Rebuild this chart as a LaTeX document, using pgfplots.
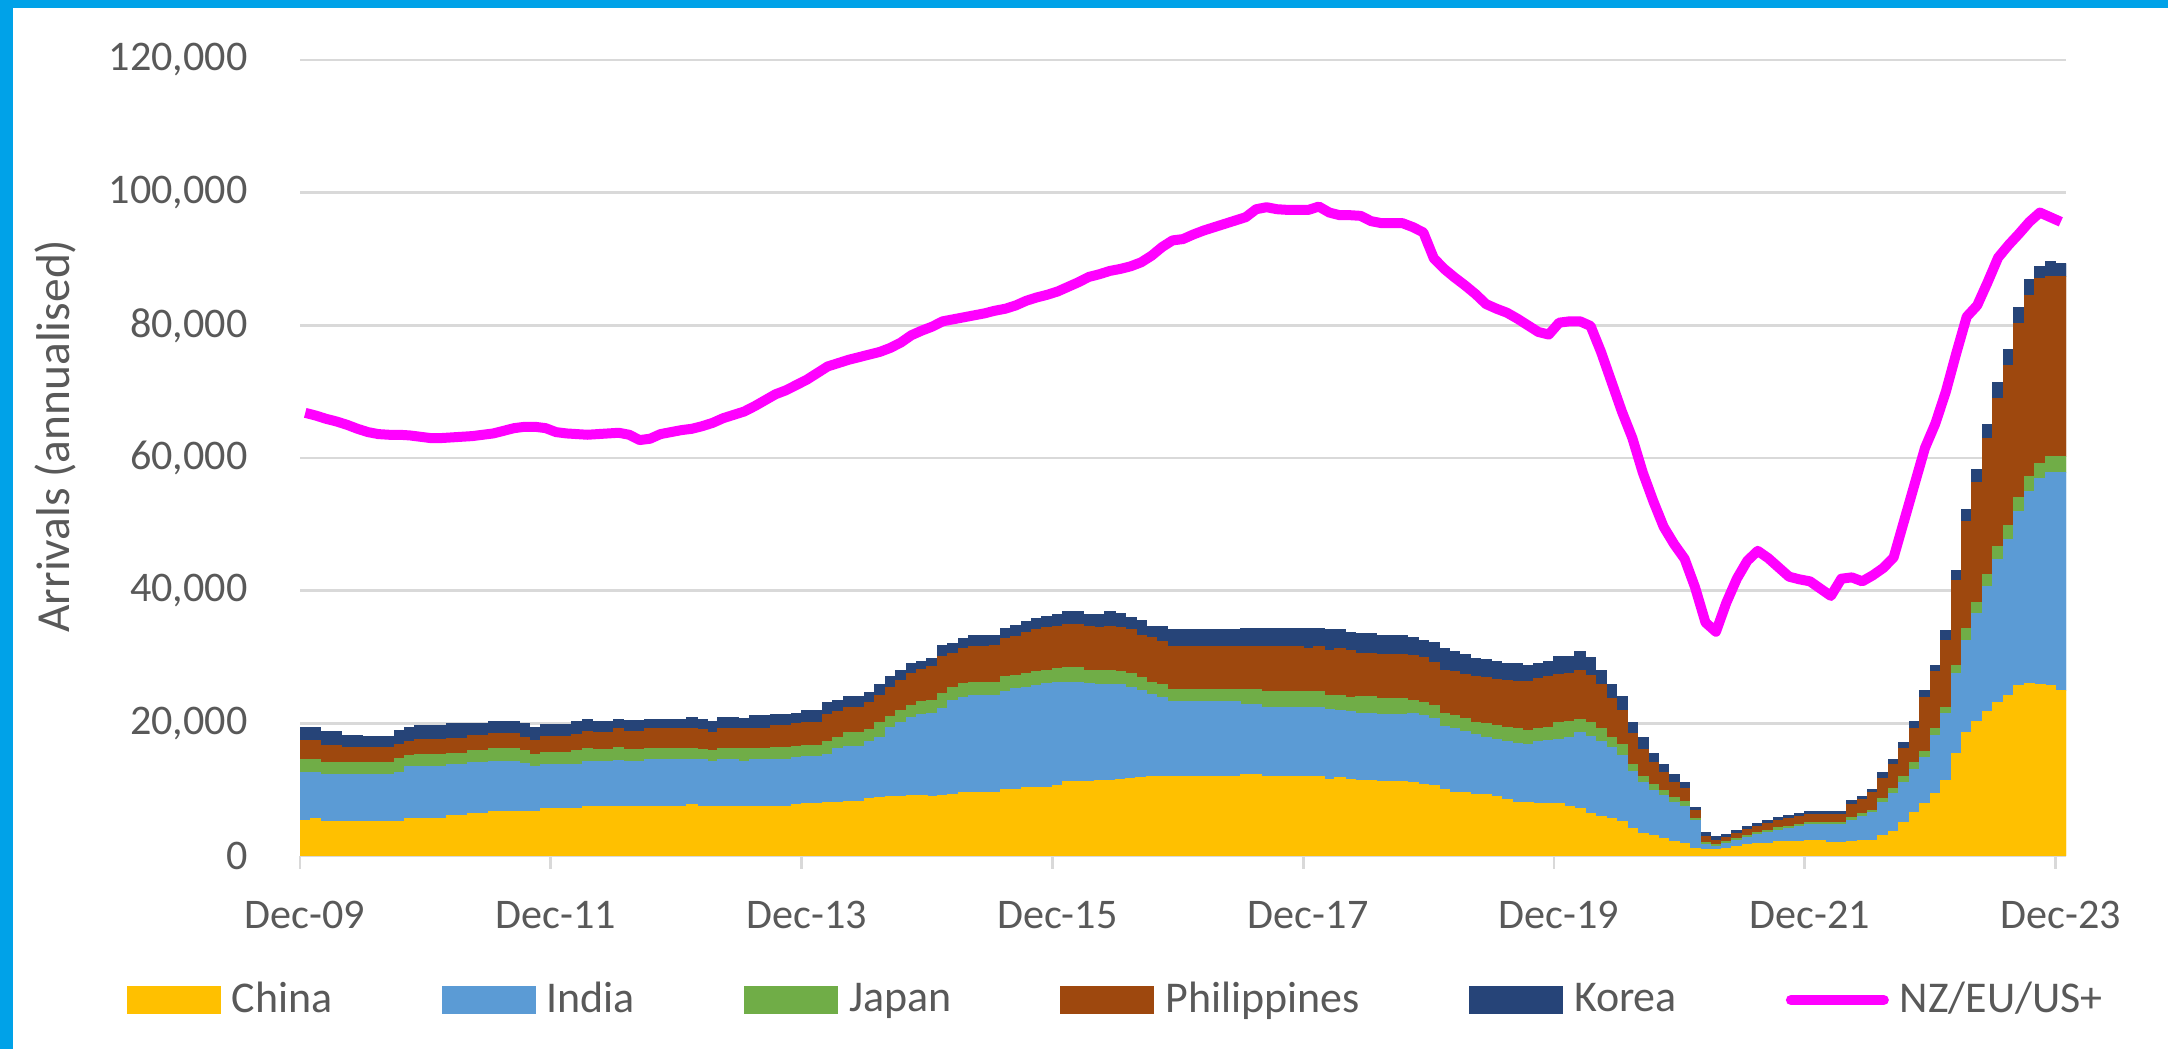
\documentclass[border=0pt]{standalone}
\usepackage{pgfplots}
\pgfplotsset{compat=1.18}
\usepackage{pgfplotstable}
\usepackage{fontspec}
\setmainfont{Carlito}

\definecolor{cChina}{HTML}{FFC000}
\definecolor{cIndia}{HTML}{5B9BD5}
\definecolor{cJapan}{HTML}{70AD47}
\definecolor{cPhil}{HTML}{9E480E}
\definecolor{cKorea}{HTML}{264478}
\definecolor{cNZ}{HTML}{FF00FF}
\definecolor{gridC}{HTML}{D9D9D9}
\definecolor{textC}{HTML}{595959}
\definecolor{frameC}{HTML}{00A2E8}

% monthly arrivals (annualised), Dec-09 = 0.5 ... Dec-23 = 168.5
\pgfplotstableread{
x China India Japan Philippines Korea NZ
0.5 5300 7250 2050 2800 2000 66800
1.5 5700 6850 2050 2800 2000 66400
2.5 5200 7100 1800 2500 2100 65900
3.5 5200 7100 1800 2500 2100 65500
4.5 5200 7100 1800 2250 1750 65000
5.5 5200 7100 1800 2250 1750 64400
6.5 5200 7100 1800 2250 1650 63900
7.5 5200 7100 1800 2250 1650 63600
8.5 5200 7100 1800 2250 1650 63500
9.5 5200 7450 2050 2150 2050 63500
10.5 5600 7850 1750 2000 2200 63400
11.5 5700 7850 1800 2250 2050 63200
12.5 5700 7850 1800 2250 2050 63000
13.5 5700 7850 1800 2250 2050 63000
14.5 6100 7700 1700 2200 2200 63100
15.5 6100 7700 1700 2200 2200 63200
16.5 6400 7700 1750 2250 1900 63300
17.5 6400 7700 1750 2250 1900 63500
18.5 6700 7500 2000 2300 1750 63700
19.5 6700 7500 2000 2300 1750 64100
20.5 6700 7500 2000 2300 1750 64500
21.5 6750 7200 1900 2050 2000 64700
22.5 6750 6800 1800 2000 2050 64700
23.5 7100 6700 1800 2400 1800 64500
24.5 7100 6700 1800 2400 1800 63900
25.5 7100 6700 1800 2400 1800 63700
26.5 7100 6700 2050 2400 2000 63600
27.5 7400 6900 1900 2600 1750 63500
28.5 7400 6900 1750 2600 1600 63600
29.5 7400 6900 1750 2600 1600 63700
30.5 7400 7050 1850 2850 1400 63800
31.5 7400 6900 1800 2650 1650 63500
32.5 7400 6900 1800 2650 1650 62700
33.5 7400 7200 1600 2950 1400 62900
34.5 7400 7200 1600 2950 1400 63600
35.5 7400 7200 1600 2950 1400 63900
36.5 7400 7200 1600 2950 1400 64200
37.5 7750 6850 1600 2950 1750 64400
38.5 7500 7000 1600 2950 1500 64800
39.5 7500 6750 1600 2800 1600 65300
40.5 7500 7000 1700 2950 1750 66000
41.5 7500 7000 1700 2950 1750 66500
42.5 7500 6800 1900 3050 1500 67000
43.5 7500 7000 1700 3050 1900 67800
44.5 7500 7000 1700 3050 1900 68700
45.5 7500 7100 1750 3300 1650 69600
46.5 7500 7100 1750 3300 1650 70200
47.5 7750 7100 1650 3400 1600 71000
48.5 7850 7100 1750 3450 1750 71800
49.5 7850 7100 1750 3450 1750 72800
50.5 8100 7250 1850 4200 1700 73800
51.5 8100 8100 1650 3900 1700 74300
52.5 8250 8250 2100 3800 1700 74800
53.5 8250 8250 2100 3800 1700 75200
54.5 8600 8600 1800 4200 1500 75600
55.5 8750 9150 2250 4050 1600 76000
56.5 8900 10500 1600 4450 1650 76600
57.5 9000 11150 1750 4600 1500 77400
58.5 9150 11750 1800 4800 1500 78500
59.5 9150 12250 1900 4800 1250 79200
60.5 8900 12650 1900 5050 1250 79800
61.5 9100 13200 2150 5550 1800 80600
62.5 9250 14200 2000 5050 1600 80900
63.5 9500 14450 2000 5250 1600 81200
64.5 9600 14600 2000 5350 1650 81500
65.5 9600 14600 2000 5350 1650 81800
66.5 9600 14600 2000 5500 1600 82200
67.5 10000 14800 2200 5800 1500 82500
68.5 10000 15200 2050 5800 1700 83000
69.5 10300 15150 2050 6200 1650 83700
70.5 10300 15400 2050 6450 1650 84200
71.5 10300 15650 2050 6450 1650 84600
72.5 10550 15550 2150 6350 1850 85100
73.5 11300 14900 2150 6600 1900 85800
74.5 11300 14900 2150 6600 1900 86500
75.5 11300 14650 2050 6600 1850 87300
76.5 11400 14400 2200 6450 1900 87700
77.5 11400 14400 2200 6600 2250 88200
78.5 11550 14250 2050 6600 2150 88500
79.5 11650 13800 2050 6600 1850 88900
80.5 11800 13150 1900 6450 2150 89500
81.5 11950 12350 1900 6700 1700 90500
82.5 12050 11900 1850 6600 2200 91800
83.5 12050 11250 1850 6450 2500 92800
84.5 12050 11250 1850 6450 2500 93000
85.5 12050 11250 1850 6450 2500 93700
86.5 12050 11250 1850 6450 2500 94300
87.5 12050 11250 1850 6450 2500 94800
88.5 12050 11250 1850 6450 2500 95300
89.5 12050 11250 1850 6450 2500 95800
90.5 12300 10500 2300 6450 2800 96300
91.5 12300 10500 2300 6450 2800 97500
92.5 12050 10400 2350 6750 2800 97800
93.5 12050 10400 2350 6750 2800 97500
94.5 12050 10400 2350 6750 2800 97400
95.5 12050 10400 2350 6750 2800 97400
96.5 12050 10400 2350 6500 2950 97400
97.5 12050 10400 2350 6750 2800 97900
98.5 11550 10550 2100 6700 3200 97000
99.5 11800 10100 2300 7000 2900 96600
100.5 11550 10250 2150 6950 2800 96600
101.5 11450 10100 2500 6500 3000 96500
102.5 11450 10100 2500 6500 3000 95700
103.5 11150 10250 2400 6600 2800 95400
104.5 11150 10250 2400 6600 2800 95400
105.5 11150 10250 2400 6600 2800 95400
106.5 11050 10500 1900 6750 2700 94800
107.5 10800 10450 1850 6800 2650 94000
108.5 10650 10100 1950 6450 3050 90100
109.5 10050 9500 2000 6450 3200 88500
110.5 9600 9650 1900 6600 3050 87200
111.5 9500 9250 1900 6700 3050 86000
112.5 9250 9000 1900 6850 2750 84700
113.5 9250 8650 2000 6950 2800 83200
114.5 8900 8600 2150 7000 2600 82500
115.5 8500 8700 2200 7100 2500 81900
116.5 8100 8900 2250 7050 2700 81000
117.5 8000 8850 2050 7400 2450 80000
118.5 7850 9350 1950 7600 2250 79000
119.5 7850 9500 2050 7600 2350 78600
120.5 7850 9750 2550 7200 2650 80400
121.5 7500 10400 2350 7250 2600 80600
122.5 7100 11450 2000 7450 2800 80600
123.5 6400 11650 2100 7100 2600 79900
124.5 6000 11200 1950 6650 2200 76000
125.5 5700 10650 1500 5950 2000 71500
126.5 5200 10000 1650 5050 2200 67000
127.5 4200 8600 1000 4600 1750 63000
128.5 3450 7600 1000 3950 1800 57800
129.5 3100 6750 900 3300 1350 53500
130.5 2700 6350 800 2700 1200 49600
131.5 2250 5800 800 2200 1200 47000
132.5 1950 5500 800 1900 900 44800
133.5 1050 4350 250 1200 450 40500
134.5 900 900 300 900 600 35200
135.5 900 600 300 600 600 33800
136.5 1200 700 300 650 450 38200
137.5 1500 900 300 750 350 41800
138.5 1800 1050 250 900 400 44500
139.5 1900 1400 300 900 400 46000
140.5 1900 1700 300 1050 400 44900
141.5 2200 1700 400 1050 450 43500
142.5 2200 2000 300 1150 450 42100
143.5 2200 2300 300 1200 400 41700
144.5 2400 2400 300 1150 450 41400
145.5 2400 2400 300 1150 450 40300
146.5 2100 2650 300 1200 450 39200
147.5 2100 2650 300 1200 450 41800
148.5 2250 3100 450 1950 600 42000
149.5 2400 3600 400 2100 450 41400
150.5 2400 4150 300 2700 450 42300
151.5 3100 4950 600 3000 900 43400
152.5 3700 5750 700 3600 850 45000
153.5 5050 6000 900 4300 900 50500
154.5 6550 6450 1050 5150 1100 56000
155.5 7900 6900 1000 8100 1050 61500
156.5 9450 8750 1000 8550 900 65200
157.5 11450 10050 900 10150 1500 70000
158.5 15400 12050 1200 12850 1600 75800
159.5 18650 13900 1800 16100 1800 81300
160.5 20300 16250 1650 18050 1950 83000
161.5 21800 18800 1800 20600 2100 86500
162.5 23150 21500 2050 22250 2400 90200
163.5 24200 23550 2100 24050 2400 92100
164.5 25700 26250 2050 26300 2400 93800
165.5 26000 28900 2300 27300 2400 95600
166.5 25800 31050 2250 27950 1800 97000
167.5 25700 32100 2400 27100 2250 96300
168.5 25000 32800 2400 27100 1950 95600
}\arrivals

\pgfplotsset{
  base/.style={
    scale only axis, width=176.6mm, height=79.6mm,
    at={(30mm,19.3mm)}, anchor=south west,
    xmin=0, xmax=169, ymin=0, ymax=120000, enlargelimits=false
  },
  swatch legend/.style={legend image code/.code={\fill[##1] (0mm,-1.35mm) rectangle (9.3mm,1.35mm);}},
  nz legend/.style={legend image code/.code={\draw[##1,line cap=round] (0.5mm,0mm) -- (9.8mm,0mm);}},
  nzline/.style={draw=cNZ, line width=1.0mm, line join=round, mark=none},
}

\begin{document}
\begin{tikzpicture}
\fill[white] (0mm,0mm) rectangle (216.8mm,104.9mm);
\fill[frameC] (0mm,0mm) rectangle (1.25mm,104.9mm);
\fill[frameC] (0mm,104.1mm) rectangle (216.8mm,104.9mm);

\begin{axis}[
    base,
    ybar stacked, bar width=1,
    axis x line=bottom, axis y line=left,
    x axis line style={-, draw=gridC, line width=0.27mm},
    y axis line style={draw=none},
    ymajorgrids, major grid style={draw=gridC, line width=0.27mm},
    xtick={0,24,...,168},
    xticklabels={Dec-09,Dec-11,Dec-13,Dec-15,Dec-17,Dec-19,Dec-21,Dec-23},
    ytick={0,20000,40000,60000,80000,100000,120000},
    yticklabels={0,{20,000},{40,000},{60,000},{80,000},{100,000},{120,000}},
    scaled y ticks=false,
    tick align=outside, major tick length=1.3mm,
    xtick style={draw=gridC, line width=0.27mm},
    ytick style={draw=none},
    tick label style={font=\fontsize{12pt}{14pt}\selectfont, text=textC},
    yticklabel style={xshift=-2.7mm},
    xticklabel style={yshift=-2.0mm, xshift=0.5mm},
    ylabel={Arrivals (annualised)},
    every axis y label/.style={at={(axis description cs:-0.1387,0.5276)}, rotate=90, anchor=center,
      font=\fontsize{13.5pt}{16pt}\selectfont, text=textC},
    legend columns=6,
    legend style={at={(axis description cs:-0.0985,-0.181)}, anchor=west, draw=none, fill=none,
      inner sep=0pt, nodes={text=textC, font=\fontsize{12.5pt}{15pt}\selectfont},
      /tikz/every odd column/.append style={column sep=0.4mm},
      /tikz/every even column/.append style={column sep=10.2mm}},
]
\addplot[fill=cChina, draw=cChina, line width=0.3pt, swatch legend] table[x=x, y=China] {\arrivals};
\addplot[fill=cIndia, draw=cIndia, line width=0.3pt, swatch legend] table[x=x, y=India] {\arrivals};
\addplot[fill=cJapan, draw=cJapan, line width=0.3pt, swatch legend] table[x=x, y=Japan] {\arrivals};
\addplot[fill=cPhil, draw=cPhil, line width=0.3pt, swatch legend] table[x=x, y=Philippines] {\arrivals};
\addplot[fill=cKorea, draw=cKorea, line width=0.3pt, swatch legend] table[x=x, y=Korea] {\arrivals};
\addlegendimage{nzline, nz legend}
\legend{China, India, Japan, Philippines, Korea, NZ/EU/US+}
\end{axis}

\begin{axis}[base, hide axis]
\addplot[nzline] table[x=x, y=NZ] {\arrivals};
\end{axis}
\end{tikzpicture}
\end{document}
